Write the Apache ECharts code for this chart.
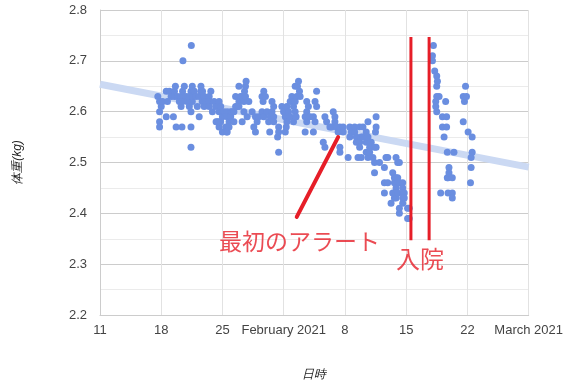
<!DOCTYPE html>
<html><head><meta charset="utf-8">
<script src="https://cdn.jsdelivr.net/npm/echarts@6/dist/echarts.min.js"></script>
<style>html,body{margin:0;padding:0;background:#fff}#c{width:566px;height:386px}</style>
</head><body><div id="c"></div>
<script>
// x = days since 2021-01-11, y = weight (kg)
const xTickLabels = ["11", "18", "25", "February 2021", "8", "15", "22", "March 2021"];
const xName = "日時";
const yName = "体重(kg)";

const pointsJan18 = [[6.61,2.63],[6.81,2.62],[7.00,2.61],[6.81,2.60],[6.81,2.58],[6.81,2.57],[7.15,2.62],[7.57,2.64],[7.57,2.59],[7.71,2.62],[7.94,2.64],[8.13,2.63],[8.39,2.59],[8.51,2.64],[8.51,2.63],[8.62,2.65],[8.70,2.57],[8.85,2.63],[9.07,2.62],[9.27,2.63],[9.27,2.61],[9.37,2.57],[9.41,2.62],[9.44,2.64],[9.48,2.70],[9.64,2.65],[9.83,2.63],[9.98,2.62],[10.21,2.63],[10.21,2.61],[10.40,2.64],[10.40,2.60],[10.40,2.57],[10.40,2.53],[10.44,2.73],[10.55,2.65],[10.55,2.62],[10.58,2.63],[10.78,2.64],[10.97,2.63],[11.12,2.61],[11.34,2.63],[11.34,2.59],[11.54,2.64],[11.54,2.65],[11.68,2.62],[11.72,2.64],[11.91,2.63],[11.91,2.61],[12.10,2.62],[12.48,2.63],[12.48,2.62],[12.48,2.61],[12.67,2.64],[12.85,2.60],[13.04,2.62],[13.24,2.61],[13.27,2.58],[13.42,2.58],[13.61,2.62],[13.61,2.60],[13.61,2.57],[13.61,2.58],[13.80,2.61],[13.80,2.58],[13.99,2.59],[13.99,2.56],[14.18,2.60],[14.37,2.57],[14.47,2.56]];
const pointsJan25 = [[14.54,2.60],[14.54,2.59],[14.54,2.56],[14.75,2.58],[14.75,2.57],[14.94,2.60],[14.94,2.59],[15.12,2.60],[15.31,2.60],[15.31,2.58],[15.50,2.63],[15.50,2.61],[15.69,2.61],[15.88,2.65],[15.88,2.62],[15.88,2.61],[16.07,2.63],[16.25,2.63],[16.25,2.58],[16.45,2.62],[16.45,2.60],[16.52,2.64],[16.63,2.65],[16.63,2.63],[16.70,2.66],[16.82,2.59],[17.01,2.62],[17.39,2.60],[17.58,2.57],[17.77,2.59],[17.77,2.56],[17.96,2.58],[18.15,2.59],[18.52,2.63],[18.52,2.60],[18.64,2.62],[18.72,2.64],[18.72,2.59],[18.91,2.63],[19.09,2.60],[19.28,2.58],[19.40,2.56],[19.47,2.59],[19.66,2.62],[19.66,2.60],[19.85,2.61],[19.85,2.59],[19.85,2.58],[20.30,2.55],[20.42,2.57],[20.42,2.56],[20.42,2.52],[20.79,2.61],[20.98,2.60],[21.18,2.59],[21.18,2.56],[21.29,2.57],[21.36,2.61],[21.36,2.58],[21.55,2.60],[21.74,2.62],[21.74,2.59],[21.93,2.63],[22.12,2.62],[22.12,2.58],[22.31,2.65],[22.31,2.60]];
const pointsFeb1 = [[22.12,2.61],[22.31,2.62],[22.42,2.59],[22.49,2.63],[22.57,2.65],[22.69,2.66],[22.80,2.64],[22.88,2.63],[23.45,2.59],[23.45,2.56],[23.63,2.62],[23.63,2.60],[23.63,2.58],[23.82,2.61],[23.82,2.59],[24.01,2.59],[24.39,2.59],[24.39,2.56],[24.58,2.62],[24.58,2.58],[24.76,2.64],[24.76,2.61],[25.52,2.54],[25.71,2.59],[25.71,2.53],[25.90,2.58],[26.28,2.57],[26.47,2.57],[26.66,2.60],[26.85,2.59],[26.85,2.58],[27.03,2.57],[27.22,2.56],[27.42,2.57],[27.42,2.53],[27.42,2.52],[27.79,2.57],[27.79,2.56],[28.36,2.51],[28.55,2.57],[28.55,2.55],[28.73,2.56]];
const pointsFeb8 = [[29.11,2.56],[29.11,2.57],[29.30,2.55],[29.30,2.54],[29.49,2.51],[29.68,2.57],[29.68,2.54],[29.68,2.53],[29.86,2.55],[29.86,2.51],[30.06,2.57],[30.06,2.55],[30.43,2.56],[30.43,2.54],[30.43,2.52],[30.63,2.58],[30.63,2.55],[30.63,2.51],[30.82,2.53],[30.82,2.52],[31.00,2.54],[31.19,2.51],[31.38,2.53],[31.38,2.50],[31.38,2.48],[31.49,2.56],[31.56,2.59],[31.56,2.57],[31.56,2.53],[31.95,2.50],[32.51,2.49],[32.51,2.46],[32.51,2.44],[32.69,2.51],[32.89,2.51],[32.89,2.46],[33.27,2.42],[33.46,2.48],[33.46,2.44],[33.65,2.47],[33.65,2.46],[33.65,2.43],[33.84,2.51],[33.84,2.47],[33.84,2.45],[33.84,2.44],[33.84,2.43],[34.03,2.50],[34.03,2.47],[34.03,2.44],[34.22,2.50],[34.22,2.46],[34.22,2.41],[34.22,2.40],[34.60,2.46],[34.60,2.45],[34.60,2.44],[34.60,2.43],[34.60,2.42],[34.78,2.44],[34.78,2.43],[35.16,2.41],[35.16,2.39],[35.35,2.41],[35.35,2.39]];
const pointsFeb17 = [[38.00,2.71],[38.00,2.70],[38.11,2.73],[38.26,2.68],[38.49,2.67],[38.57,2.66],[38.49,2.65],[38.49,2.63],[38.76,2.63],[38.38,2.62],[38.38,2.61],[38.49,2.60],[38.94,2.44],[39.14,2.59],[39.14,2.57],[39.33,2.55],[39.51,2.62],[39.62,2.59],[39.62,2.57],[39.70,2.52],[39.70,2.47],[39.78,2.47],[39.78,2.44],[39.89,2.49],[39.89,2.48],[40.27,2.47],[40.27,2.44],[40.27,2.43],[40.46,2.52],[41.52,2.63],[41.52,2.58],[41.66,2.62],[41.78,2.65],[41.89,2.63],[42.08,2.56],[42.35,2.46],[42.42,2.51],[42.42,2.49],[42.54,2.55],[42.54,2.52]];

const trendX = [0, 49];
const trendY = [2.654, 2.491];

// annotations (data space)
const hospitalLineX = [35.54, 37.62];
const hospitalLineY = [2.747, 2.347];
const alertArrowX = [22.49, 27.22];
const alertArrowY = [2.393, 2.550];
const annotationTexts = [["最初のアラート", 22.8, 2.345, 23], ["入院", 36.59, 2.311, 24]];

const allPoints = [].concat(pointsJan18, pointsJan25, pointsFeb1, pointsFeb8, pointsFeb17);
const RED = '#e61e28';

const series = [
  { type: 'line', data: trendX.map((x, i) => [x, trendY[i]]), symbol: 'none', silent: true, z: 1,
    lineStyle: { color: '#cbd9f3', width: 7 } },
  { type: 'scatter', data: allPoints, symbolSize: 7, z: 2,
    itemStyle: { color: '#6a8ee0', opacity: 1 } }
];
hospitalLineX.forEach(x => series.push({ type: 'line', data: hospitalLineY.map(y => [x, y]), symbol: 'none', z: 5,
  lineStyle: { color: RED, width: 3 } }));
series.push({ type: 'line', data: alertArrowX.map((x, i) => [x, alertArrowY[i]]), symbol: 'none', z: 5,
  lineStyle: { color: RED, width: 4, cap: 'round' } });
annotationTexts.forEach(t => series.push({ type: 'scatter', symbolSize: 0, z: 6, silent: true,
  data: [{ value: [t[1], t[2]], name: t[0] }],
  label: { show: true, position: 'inside', formatter: p => p.name, color: RED, fontSize: t[3],
    fontFamily: '"Noto Sans CJK JP", sans-serif' } }));

const chart = echarts.init(document.getElementById('c'), null, { renderer: 'canvas' });
chart.setOption({
  animation: false,
  backgroundColor: '#fff',
  grid: { left: 100, right: 34, top: 10, bottom: 68, containLabel: false },
  xAxis: {
    type: 'value', min: 0, max: 49, interval: 7,
    name: xName, nameLocation: 'middle', nameGap: 54,
    nameTextStyle: { fontStyle: 'italic', fontSize: 12, color: '#222', fontFamily: '"Liberation Sans", Arial, sans-serif' },
    axisLine: { show: true, lineStyle: { color: '#ccc' } },
    axisTick: { show: false },
    axisLabel: { margin: 9, fontSize: 13, color: '#444', fontFamily: '"Liberation Sans", Arial, sans-serif',
      showMinLabel: true, showMaxLabel: true,
      formatter: v => xTickLabels[Math.round(v / 7)] },
    splitLine: { show: true, lineStyle: { color: '#e2e2e2' } }
  },
  yAxis: {
    type: 'value', min: 2.2, max: 2.8, interval: 0.1,
    name: yName, nameLocation: 'middle', nameGap: 76, nameRotate: 90,
    nameTextStyle: { fontStyle: 'italic', fontSize: 12, color: '#222', fontFamily: '"Liberation Sans", Arial, sans-serif' },
    axisLine: { show: true, lineStyle: { color: '#ccc' } },
    axisTick: { show: false },
    axisLabel: { margin: 13, fontSize: 13, color: '#444', fontFamily: '"Liberation Sans", Arial, sans-serif',
      formatter: v => v.toFixed(1) },
    splitLine: { show: true, lineStyle: { color: '#cccccc' } },
    minorTick: { show: false, splitNumber: 2 },
    minorSplitLine: { show: true, lineStyle: { color: '#ebebeb' } }
  },
  series: series
});
</script></body></html>
